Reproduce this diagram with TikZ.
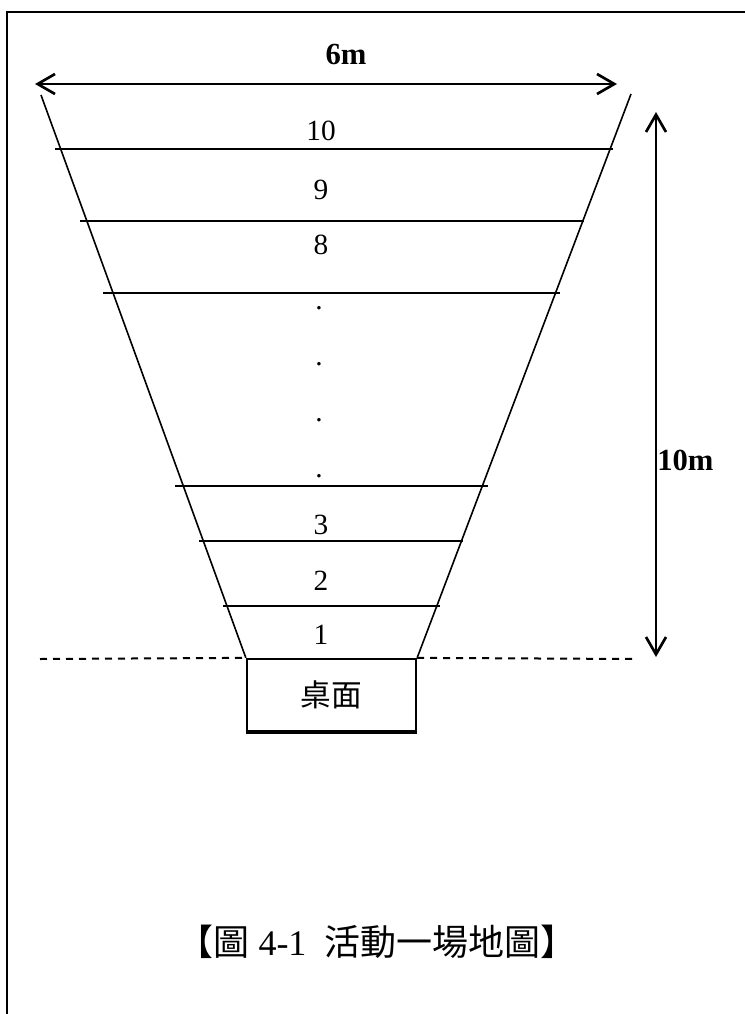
\documentclass[tikz,border=0pt]{standalone}
\usepackage{fontspec}
\setmainfont{Liberation Serif}
\newfontfamily\cjk{Noto Sans CJK TC}
\usetikzlibrary{arrows.meta}

\begin{document}
\begin{tikzpicture}[x=0.75pt, y=-0.75pt,
  side/.style={line width=1.2pt},
  rung/.style={line width=1.2pt},
  dim/.style={{Straight Barb[length=13pt,width=15pt]}-{Straight Barb[length=13pt,width=15pt]}, line width=2pt},
  num/.style={font=\fontsize{22}{22}\selectfont, inner sep=0pt},
  desk/.style={draw, line width=1.7pt, minimum width=126.75pt, minimum height=54pt, inner sep=0pt, font=\cjk\fontsize{23}{23}\selectfont}]
\useasboundingbox (0,0) rectangle (745,1014);
% frame
\draw[line width=1.5pt] (7,1014) -- (7,12) -- (745,12);
% desk and the field
\node[desk] (desk) at (331.5,695) {桌面};
\draw[line width=3pt] (desk.south west) -- (desk.south east);
\coordinate (tl) at (41,95);
\coordinate (tr) at (631,94);
\draw[side] (tl) -- (desk.north west);
\draw[side] (tr) -- (desk.north east);
\draw[rung] (55,149) -- (613,149);
\draw[rung] (80,221) -- (584,221);
\draw[rung] (103,293) -- (560,293);
\draw[rung] (175,486) -- (488,486);
\draw[rung] (199,541) -- (463,541);
\draw[rung] (223,606) -- (440,606);
% row numbers
\node[num] (r10) at (321,131) {10};
\node[num] (r9) at (321,190) {9};
\node[num] (r8) at (321,245) {8};
\foreach \y in {308,364,420,476}
  \node[num] at (319,\y) {.};
\node[num] (r3) at (321,525) {3};
\node[num] (r2) at (321,581) {2};
\node[num] (r1) at (321,635) {1};
% base line
\coordinate (dl) at (40,659);
\coordinate (dr) at (637,659);
\draw[line width=1.5pt, dash pattern=on 5.25pt off 4.5pt] (dl) -- (desk.north west);
\draw[line width=1.5pt, dash pattern=on 5.25pt off 4.5pt] (desk.north east) -- (dr);
% dimensions
\coordinate (wl) at (35,84);
\coordinate (wr) at (617,84);
\draw[dim] (wl) -- (wr);
\node[font=\bfseries\fontsize{23}{23}\selectfont, inner sep=0pt] (wlab) at (346,54) {6m};
\coordinate (ht) at (656,112);
\coordinate (hb) at (656,657);
\draw[dim] (ht) -- (hb);
\node[font=\bfseries\fontsize{23}{23}\selectfont, inner sep=0pt, anchor=west] (hlab) at (657,460) {10m};
% caption
\node[font=\fontsize{27}{27}\selectfont, inner sep=0pt] (cap) at (377,942) {{\cjk 【圖} 4-1\ \ {\cjk 活動一場地圖】}};
\end{tikzpicture}
\end{document}
